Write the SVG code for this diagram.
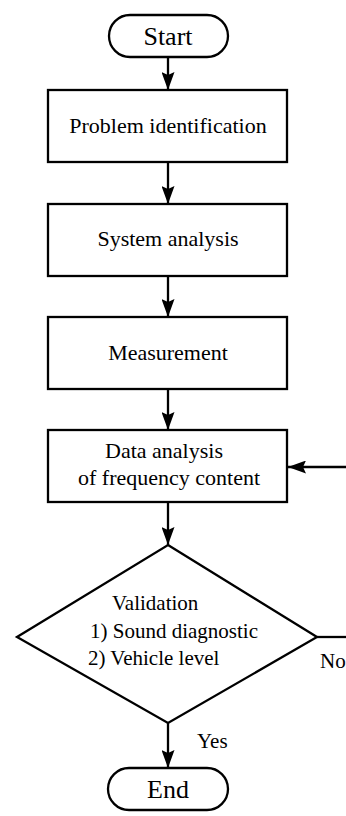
<svg xmlns="http://www.w3.org/2000/svg" width="346" height="816" viewBox="0 0 346 816">
<style>
.s{fill:#fff;stroke:#000;stroke-width:2.3}
.c{fill:none;stroke:#000;stroke-width:2.3}
text{font-family:"Liberation Serif","Times New Roman",serif;fill:#000}
.t{font-size:22px;text-anchor:middle}
.b{font-size:26px;text-anchor:middle}
.v{font-size:21px}
</style>
<defs>
<marker id="arr" viewBox="0 0 18 13" markerWidth="18" markerHeight="13" refX="18" refY="6.5" orient="auto" markerUnits="userSpaceOnUse">
<path d="M0,0 L18,6.5 L0,13 L3,6.5 Z" fill="#000"/>
</marker>
</defs>
<g id="connectors">
<line class="c" x1="168" y1="57" x2="168" y2="90" marker-end="url(#arr)"/>
<line class="c" x1="168" y1="162" x2="168" y2="204" marker-end="url(#arr)"/>
<line class="c" x1="168" y1="276" x2="168" y2="317" marker-end="url(#arr)"/>
<line class="c" x1="168" y1="389" x2="168" y2="430" marker-end="url(#arr)"/>
<line class="c" x1="168" y1="502" x2="168" y2="545" marker-end="url(#arr)"/>
<line class="c" x1="168" y1="723" x2="168" y2="768" marker-end="url(#arr)"/>
<line class="c" x1="317" y1="637" x2="347" y2="637"/>
<line class="c" x1="347" y1="467" x2="288" y2="467" marker-end="url(#arr)"/>
<text class="v" x="320" y="668">No</text>
<text class="v" x="197" y="748">Yes</text>
</g>
<g id="start">
<rect class="s" x="109" y="15" width="119" height="42" rx="21"/>
<text class="b" x="168" y="45">Start</text>
</g>
<g id="problem">
<rect class="s" x="48" y="90" width="239" height="72"/>
<text class="t" x="168" y="133">Problem identification</text>
</g>
<g id="system">
<rect class="s" x="48" y="204" width="239" height="72"/>
<text class="t" x="168" y="246">System analysis</text>
</g>
<g id="measurement">
<rect class="s" x="48" y="317" width="239" height="72"/>
<text class="t" x="168" y="360">Measurement</text>
</g>
<g id="data">
<rect class="s" x="48" y="430" width="239" height="72"/>
<text class="t" x="164" y="458">Data analysis</text>
<text class="t" x="169" y="485">of frequency content</text>
</g>
<g id="validation">
<polygon class="s" points="168,545 317,637 168,723 17,637"/>
<text class="v" x="112" y="610">Validation</text>
<text class="v" x="90" y="638">1) Sound diagnostic</text>
<text class="v" x="88" y="665">2) Vehicle level</text>
</g>
<g id="end">
<rect class="s" x="108" y="768" width="120" height="42" rx="21"/>
<text class="b" x="168" y="798">End</text>
</g>
</svg>
